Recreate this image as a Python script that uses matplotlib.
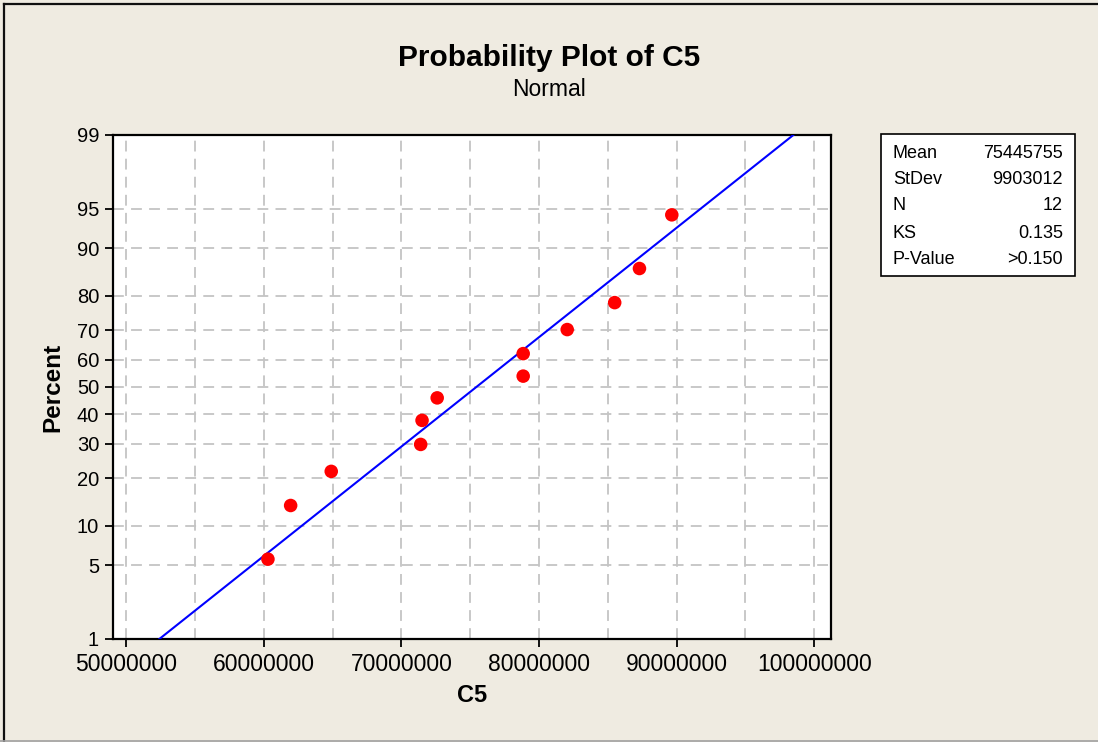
import numpy as np
import matplotlib
matplotlib.use("Agg")
import matplotlib.pyplot as plt
from matplotlib.patches import Rectangle
from matplotlib.lines import Line2D
from matplotlib.ticker import FixedLocator, MultipleLocator, FuncFormatter
from statistics import NormalDist

# values
c5 = [60300000, 61950000, 64900000, 71400000, 71500000, 72600000,
      78850000, 78850000, 82050000, 85500000, 87300000, 89650000]
percent = [5.6, 13.7, 21.8, 29.8, 37.9, 46.0, 54.0, 62.1, 70.2, 78.2, 86.3, 94.4]
fit_percent = [1, 99]
y_ticks = [1, 5, 10, 20, 30, 40, 50, 60, 70, 80, 90, 95, 99]
x_ticks = [50000000, 60000000, 70000000, 80000000, 90000000, 100000000]
stat_names = ["Mean", "StDev", "N", "KS", "P-Value"]
stat_values = ["75445755", "9903012", "12", "0.135", ">0.150"]
mean = 75445755
stdev = 9903012

nd = NormalDist()
_ppf = np.vectorize(nd.inv_cdf, otypes=[float])
_cdf = np.vectorize(nd.cdf, otypes=[float])


def forward(p):
    p = np.asarray(p, dtype=float)
    return _ppf(np.clip(p / 100.0, 1e-9, 1 - 1e-9))


def inverse(z):
    z = np.asarray(z, dtype=float)
    return _cdf(z) * 100.0


plt.rcParams['font.family'] = ['Liberation Sans', 'DejaVu Sans']
bg = '#efebe1'

fig = plt.figure(figsize=(10.98, 7.42), dpi=100, facecolor=bg)
ax = fig.add_axes([113 / 1098, 1 - 639 / 742, (831 - 113) / 1098, (639 - 135) / 742])
ax.set_facecolor('white')

ax.set_yscale('function', functions=(forward, inverse))
ax.set_ylim(1, 99)
ax.set_xlim(49040000, 101220000)

ax.yaxis.set_major_locator(FixedLocator(y_ticks))
ax.yaxis.set_major_formatter(FuncFormatter(lambda v, pos: "%d" % round(v)))
ax.yaxis.set_minor_locator(FixedLocator([]))
ax.xaxis.set_major_locator(FixedLocator(x_ticks))
ax.xaxis.set_major_formatter(FuncFormatter(lambda v, pos: "%d" % v))
ax.xaxis.set_minor_locator(MultipleLocator(5000000))

grid_kw = dict(color='#c4c4c4', linestyle=(0, (6, 4)), linewidth=1.3)
ax.grid(True, which='both', axis='x', **grid_kw)
ax.grid(True, which='major', axis='y', **grid_kw)
ax.set_axisbelow(True)

ax.tick_params(axis='both', which='major', direction='out', length=6, width=1.3,
               labelsize=16.5, color='black', pad=4)
ax.tick_params(axis='x', which='minor', length=0)
ax.tick_params(axis='y', which='major', labelsize=14.5)
for sp in ax.spines.values():
    sp.set_linewidth(1.6)
    sp.set_color('black')

# fitted line from the mean and stdev
fit_x = [mean + stdev * nd.inv_cdf(p / 100.0) for p in fit_percent]
ax.plot(fit_x, fit_percent, color='#0000ff', linewidth=1.5, zorder=3)
ax.scatter(c5, percent, s=95, color='#ff0000', edgecolors='none', zorder=4)

ax.set_xlabel("C5", fontsize=17, fontweight='bold', labelpad=6)
ax.set_ylabel("Percent", fontsize=17.5, fontweight='bold', labelpad=9)

fig.text(0.5, 1 - 58 / 742, "Probability Plot of C5", ha='center', va='center',
         fontsize=21.5, fontweight='bold')
fig.text(0.5, 1 - 89 / 742, "Normal", ha='center', va='center', fontsize=16.5)

# stats box
bx0, bx1, by0, by1 = 881, 1075, 134, 276
fig.patches.append(Rectangle((bx0 / 1098, 1 - by1 / 742), (bx1 - bx0) / 1098,
                             (by1 - by0) / 742, transform=fig.transFigure,
                             facecolor='white', edgecolor='black', linewidth=1.2))
row_y = [153, 180, 206, 233, 259]
for name, val, yy in zip(stat_names, stat_values, row_y):
    fig.text(893 / 1098, 1 - yy / 742, name, ha='left', va='center', fontsize=13)
    fig.text(1063 / 1098, 1 - yy / 742, val, ha='right', va='center', fontsize=13)

# outer frame: dark left and top edges, light bottom edge
fig.lines.append(Line2D([4 / 1098, 4 / 1098], [0, 1 - 3.5 / 742], transform=fig.transFigure,
                        color='#101010', linewidth=1.6))
fig.lines.append(Line2D([4 / 1098, 1], [1 - 3.5 / 742, 1 - 3.5 / 742], transform=fig.transFigure,
                        color='#101010', linewidth=1.6))
fig.lines.append(Line2D([0, 1], [0.8 / 742, 0.8 / 742], transform=fig.transFigure,
                        color='#a0a0a0', linewidth=1.2))

fig.savefig("out.png", dpi=100, facecolor=bg)
